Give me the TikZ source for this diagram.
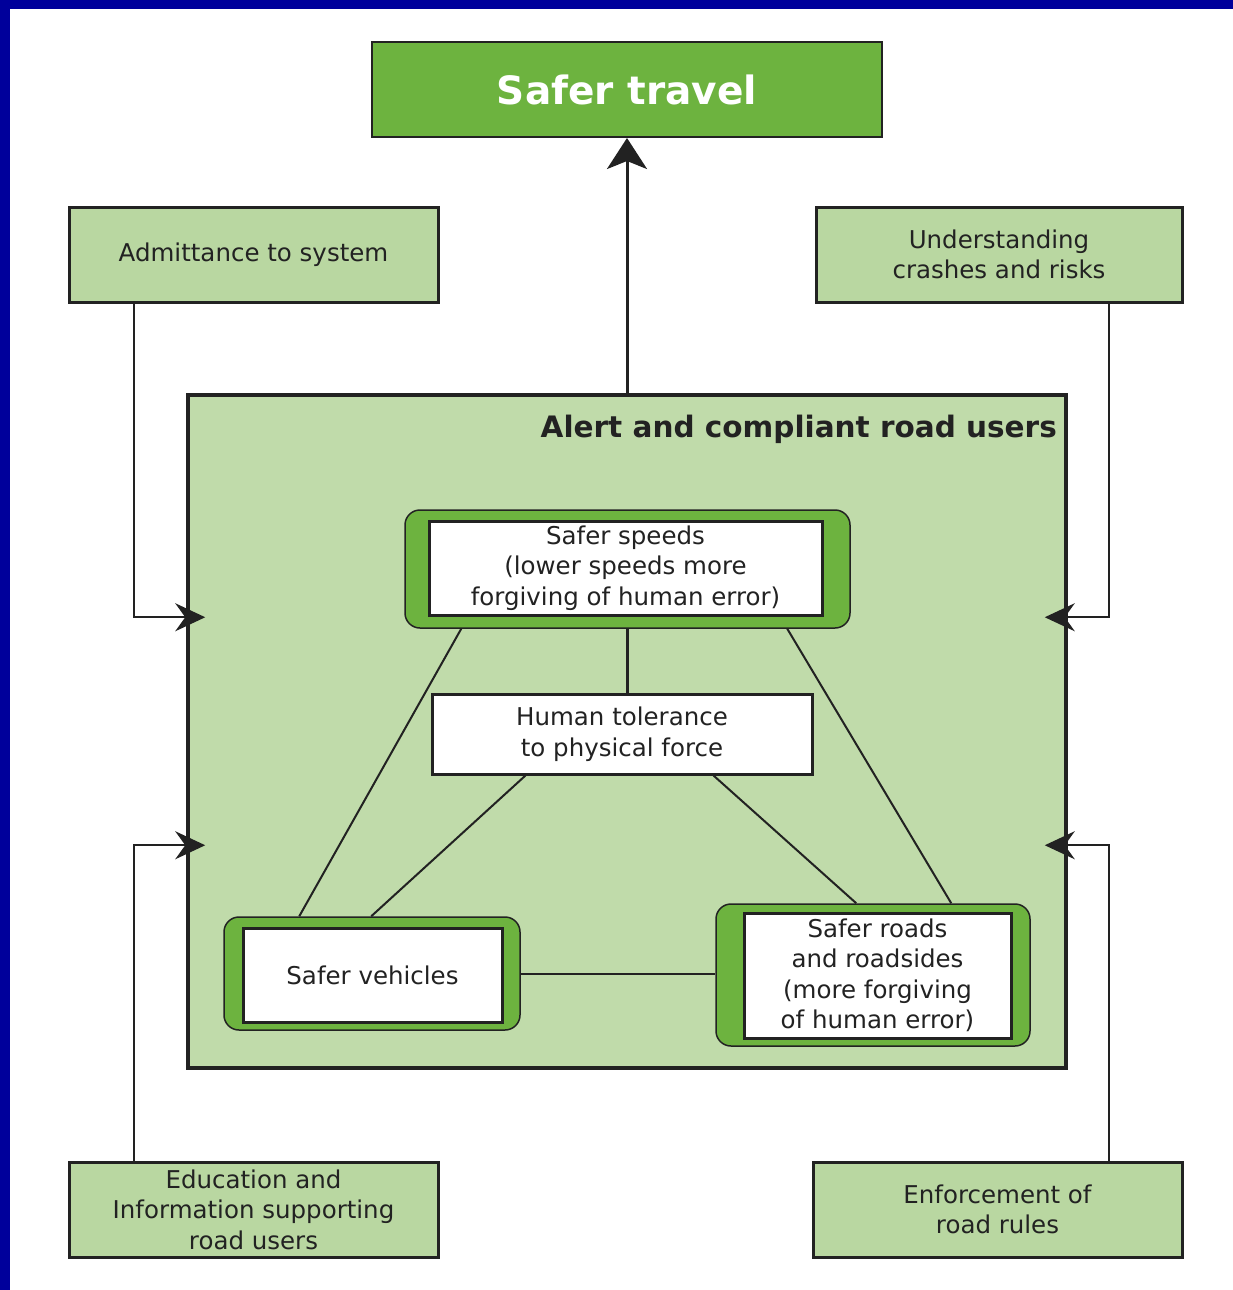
\documentclass[tikz,border=0pt]{standalone}
\usepackage{fontspec}
\setmainfont{DejaVu Sans}
\usetikzlibrary{arrows.meta,calc}
\definecolor{dkgreen}{RGB}{109,179,63}
\definecolor{lgreen}{RGB}{185,215,161}
\definecolor{bggreen}{RGB}{192,219,170}
\definecolor{linec}{RGB}{34,34,34}
\definecolor{txt}{RGB}{34,34,34}
\definecolor{edgeblue}{RGB}{0,0,155}
\tikzset{
  body/.style={font=\fontsize{24.5}{30.5}\selectfont, text=txt, align=center},
  lbox/.style={draw=linec, line width=3pt, fill=lgreen, inner sep=0pt, body},
  wbox/.style={draw=linec, line width=3pt, fill=white, inner sep=0pt, body},
  gbox/.style={draw=linec, line width=1.5pt, fill=dkgreen, rounded corners=15pt, inner sep=0pt},
  thin/.style={draw=linec, line width=2pt},
  conn/.style={draw=linec, line width=2pt, -{Stealth[length=30pt,width=28pt,inset=10pt]}},
}
\begin{document}
\begin{tikzpicture}[x=1pt,y=-1pt]
\useasboundingbox (0,0) rectangle (1233,1290);
\fill[white] (0,0) rectangle (1233,1290);
\fill[edgeblue] (0,0) rectangle (1233,9);
\fill[edgeblue] (0,0) rectangle (10,1290);

% top box
\node[draw=linec, line width=2pt, fill=dkgreen, minimum width=510pt, minimum height=95pt, inner sep=0pt,
      font=\fontsize{39}{45}\selectfont\bfseries, text=white] (st) at (627,89.5) {Safer travel};

% outer boxes
\node[lbox, minimum width=369pt, minimum height=95pt] (adm) at (253.5,254.5) {Admittance to system};
\node[lbox, minimum width=366pt, minimum height=95pt] (und) at (999,254.5) {Understanding\\crashes and risks};
\node[lbox, minimum width=369pt, minimum height=95pt] (edu) at (253.5,1209.5) {Education and\\Information supporting\\road users};
\node[lbox, minimum width=369pt, minimum height=95pt] (enf) at (997.5,1209.5) {Enforcement of\\road rules};

% big box
\node[draw=linec, line width=3.5pt, fill=bggreen, minimum width=878pt, minimum height=673pt, inner sep=0pt] (big) at (627,731.5) {};
\node[anchor=base east, font=\fontsize{29.5}{34}\selectfont\bfseries, text=txt, inner sep=0pt] (bigtitle) at (1057,437) {Alert and compliant road users};

% safer speeds
\node[gbox, minimum width=445pt, minimum height=118pt] (ssout) at (627.5,569) {};
\node[wbox, minimum width=393pt, minimum height=94pt] (ssin) at (625.5,568) {Safer speeds\\(lower speeds more\\forgiving of human error)};

% human tolerance
\node[wbox, minimum width=380pt, minimum height=80pt] (ht) at (622,734) {Human tolerance\\to physical force};

% safer vehicles
\node[gbox, minimum width=296pt, minimum height=113pt] (svout) at (372,973.5) {};
\node[wbox, minimum width=259pt, minimum height=94pt] (svin) at (372.5,975) {Safer vehicles};

% safer roads
\node[gbox, minimum width=314pt, minimum height=142pt] (srout) at (873,975) {};
\node[wbox, minimum width=267pt, minimum height=125pt] (srin) at (877.5,975.5) {Safer roads\\and roadsides\\(more forgiving\\of human error)};

% internal links
\draw[draw=linec, line width=3pt] (ssout.south -| 627,0) -- (ht.north -| 627,0);
\draw[thin] ($(ssout.south west)+(57,0)$) -- ($(svout.north west)+(76,0)$);
\draw[thin] ($(ssout.south west)+(383,0)$) -- ($(srout.north west)+(236,0)$);
\draw[thin] ($(ht.south west)+(95,0)$) -- ($(svout.north west)+(148,0)$);
\draw[thin] ($(ht.south west)+(283,0)$) -- ($(srout.north west)+(141,0)$);
\draw[thin] (svout.east) -- (srout.west |- svout.east);

% main arrow
\draw[draw=linec, line width=3pt, -{Stealth[length=31pt,width=40pt,inset=8pt]}] (big.north -| st.south) -- (st.south);

% side arrows
\coordinate (aL1) at ($(big.north west)+(19,224)$);
\coordinate (aL2) at ($(big.north west)+(19,452)$);
\coordinate (aR1) at ($(big.north east)+(-23,224)$);
\coordinate (aR2) at ($(big.north east)+(-23,452)$);
\draw[conn] ($(adm.south west)+(66,0)$) |- (aL1);
\draw[conn] ($(edu.north west)+(66,0)$) |- (aL2);
\draw[conn] ($(und.south west)+(294,0)$) |- (aR1);
\draw[conn] ($(enf.north west)+(297,0)$) |- (aR2);
\end{tikzpicture}
\end{document}
